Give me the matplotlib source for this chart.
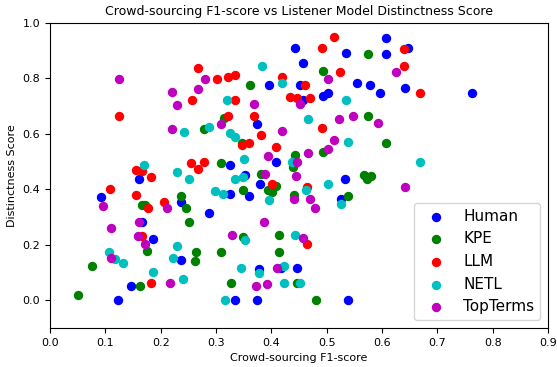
import matplotlib
matplotlib.use("Agg")
import matplotlib.pyplot as plt

# Human
human_x = [0.442, 0.535, 0.457, 0.395, 0.451, 0.555, 0.579, 0.596, 0.457, 0.494,
           0.503, 0.374, 0.409, 0.325, 0.607, 0.647, 0.607, 0.641, 0.763, 0.160,
           0.092, 0.236, 0.287, 0.166, 0.187, 0.237, 0.146, 0.123, 0.353, 0.380,
           0.325, 0.360, 0.533, 0.526, 0.377, 0.418, 0.447, 0.334, 0.374, 0.539]
human_y = [0.911, 0.892, 0.856, 0.775, 0.777, 0.782, 0.775, 0.748, 0.722, 0.738,
           0.748, 0.634, 0.499, 0.487, 0.946, 0.911, 0.888, 0.766, 0.748, 0.437,
           0.372, 0.355, 0.314, 0.282, 0.220, 0.145, 0.051, 0.0, 0.452, 0.419,
           0.382, 0.375, 0.436, 0.366, 0.114, 0.116, 0.116, 0.0, 0.0, 0.0]

# KPE
kpe_x = [0.279, 0.574, 0.493, 0.362, 0.315, 0.574, 0.347, 0.493, 0.442, 0.309,
         0.607, 0.167, 0.172, 0.236, 0.246, 0.252, 0.176, 0.076, 0.264, 0.309,
         0.262, 0.163, 0.051, 0.440, 0.382, 0.409, 0.394, 0.402, 0.349, 0.441,
         0.568, 0.573, 0.581, 0.538, 0.349, 0.413, 0.413, 0.327, 0.446, 0.481]
kpe_y = [0.616, 0.888, 0.828, 0.775, 0.657, 0.664, 0.568, 0.534, 0.525, 0.494,
         0.569, 0.345, 0.345, 0.377, 0.332, 0.284, 0.179, 0.124, 0.174, 0.174,
         0.141, 0.053, 0.018, 0.479, 0.454, 0.413, 0.397, 0.391, 0.397, 0.380,
         0.452, 0.437, 0.449, 0.375, 0.227, 0.234, 0.173, 0.061, 0.061, 0.0]

# LLM
llm_x = [0.268, 0.301, 0.257, 0.125, 0.254, 0.279, 0.513, 0.491, 0.524, 0.321,
         0.335, 0.420, 0.461, 0.335, 0.433, 0.447, 0.470, 0.321, 0.368, 0.491,
         0.382, 0.347, 0.360, 0.409, 0.639, 0.639, 0.669, 0.155, 0.167, 0.183,
         0.268, 0.109, 0.156, 0.177, 0.206, 0.167, 0.183, 0.402, 0.465, 0.464]
llm_y = [0.836, 0.798, 0.722, 0.664, 0.496, 0.499, 0.948, 0.911, 0.822, 0.805,
         0.812, 0.806, 0.775, 0.722, 0.734, 0.729, 0.729, 0.664, 0.664, 0.621,
         0.595, 0.560, 0.569, 0.552, 0.907, 0.845, 0.748, 0.469, 0.466, 0.443,
         0.473, 0.401, 0.380, 0.332, 0.356, 0.231, 0.062, 0.419, 0.409, 0.203]

# NETL
netl_x = [0.243, 0.287, 0.170, 0.384, 0.419, 0.320, 0.535, 0.467, 0.326, 0.335,
          0.539, 0.351, 0.437, 0.669, 0.229, 0.252, 0.298, 0.229, 0.107, 0.118,
          0.132, 0.223, 0.186, 0.241, 0.334, 0.349, 0.313, 0.395, 0.462, 0.503,
          0.526, 0.353, 0.442, 0.345, 0.377, 0.422, 0.423, 0.451, 0.317]
netl_y = [0.606, 0.625, 0.487, 0.846, 0.784, 0.722, 0.722, 0.655, 0.602, 0.590,
          0.570, 0.510, 0.499, 0.499, 0.461, 0.437, 0.394, 0.197, 0.174, 0.149,
          0.135, 0.152, 0.101, 0.077, 0.437, 0.445, 0.383, 0.361, 0.398, 0.419,
          0.348, 0.219, 0.234, 0.116, 0.100, 0.122, 0.061, 0.061, 0.0]

# TopTerms
top_x = [0.125, 0.280, 0.220, 0.268, 0.229, 0.220, 0.309, 0.502, 0.369, 0.452,
         0.522, 0.547, 0.593, 0.419, 0.513, 0.503, 0.467, 0.394, 0.447, 0.625,
         0.095, 0.212, 0.161, 0.111, 0.159, 0.172, 0.111, 0.217, 0.444, 0.388,
         0.441, 0.470, 0.479, 0.386, 0.329, 0.457, 0.411, 0.372, 0.393, 0.641]
top_y = [0.798, 0.798, 0.752, 0.762, 0.706, 0.618, 0.634, 0.798, 0.708, 0.708,
         0.652, 0.664, 0.638, 0.611, 0.577, 0.544, 0.532, 0.521, 0.499, 0.822,
         0.340, 0.332, 0.284, 0.260, 0.232, 0.202, 0.154, 0.062, 0.449, 0.456,
         0.367, 0.366, 0.331, 0.284, 0.236, 0.226, 0.116, 0.051, 0.058, 0.409]

fig = plt.figure(figsize=(5.57, 3.67), dpi=100)
ax = fig.add_axes([50 / 557, 1 - 328 / 367, 498 / 557, 305 / 367])

ax.scatter(human_x, human_y, color='b', s=33, label='Human')
ax.scatter(kpe_x, kpe_y, color='g', s=33, label='KPE')
ax.scatter(llm_x, llm_y, color='r', s=33, label='LLM')
ax.scatter(netl_x, netl_y, color='c', s=33, label='NETL')
ax.scatter(top_x, top_y, color='m', s=33, label='TopTerms')

ax.set_xlim(0, 0.9)
ax.set_ylim(-0.1, 1.0)
ax.set_xticks([0.0, 0.1, 0.2, 0.3, 0.4, 0.5, 0.6, 0.7, 0.8, 0.9])
ax.set_yticks([0.0, 0.2, 0.4, 0.6, 0.8, 1.0])
ax.tick_params(labelsize=8)
ax.set_title('Crowd-sourcing F1-score vs Listener Model Distinctness Score', fontsize=9)
ax.set_xlabel('Crowd-sourcing F1-score', fontsize=8)
ax.set_ylabel('Distinctness Score', fontsize=8)
ax.legend(loc='lower right', fontsize=11)

fig.savefig('out.png', dpi=100)
